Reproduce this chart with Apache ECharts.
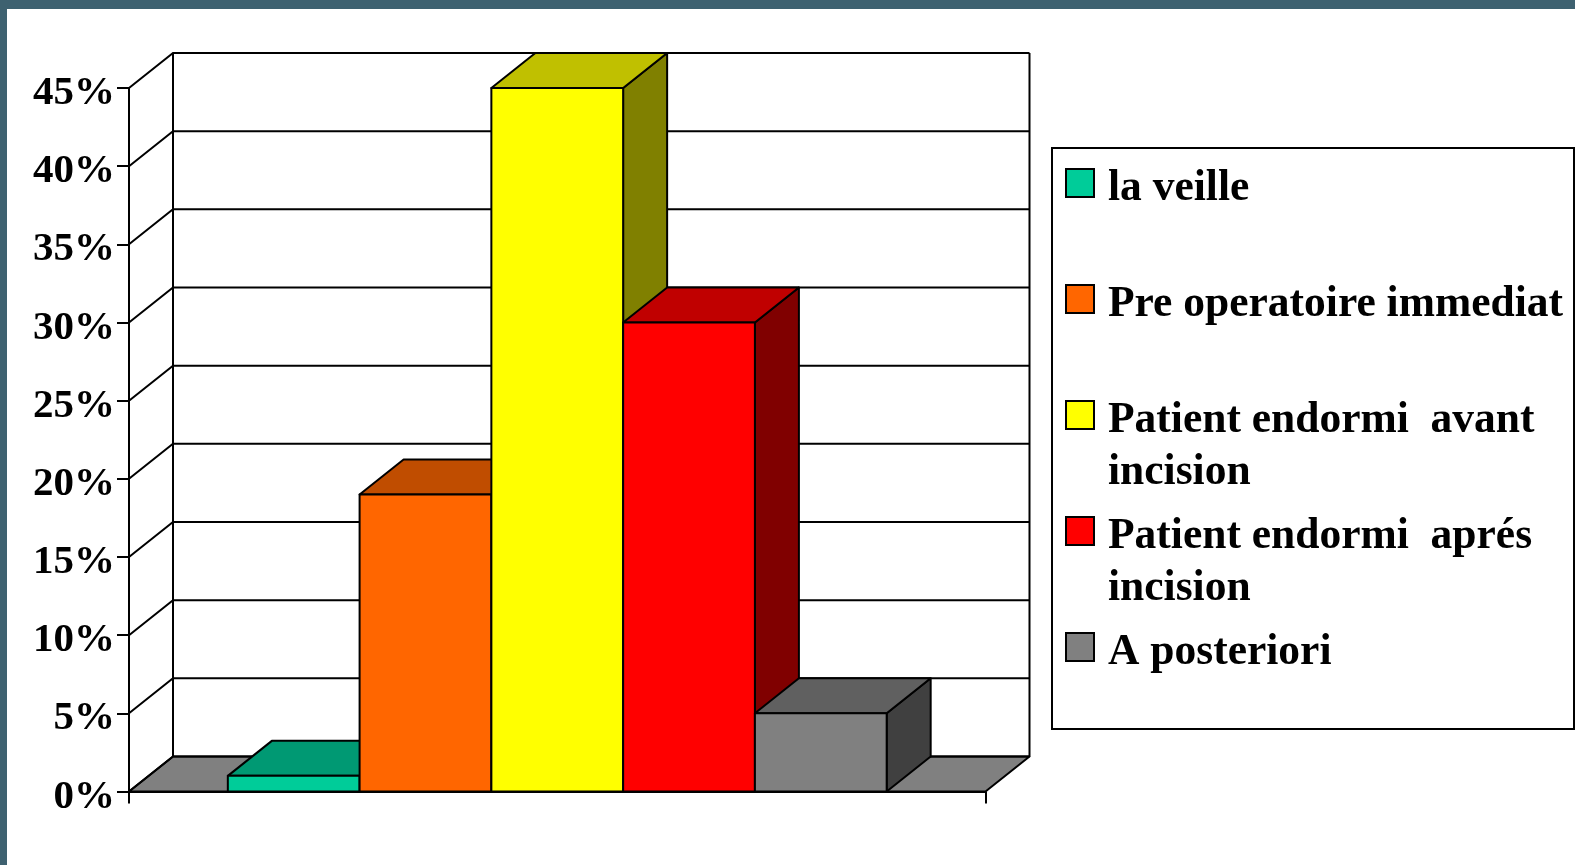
<!DOCTYPE html>
<html>
<head>
<meta charset="utf-8">
<title>Chart</title>
<style>
  html, body { margin: 0; padding: 0; background: #fff; }
  #chart { width: 1575px; height: 865px; }
</style>
<script src="https://cdn.jsdelivr.net/npm/echarts@6/dist/echarts.min.js"></script>
</head>
<body>
<div id="chart"></div>
<script>
var names = ['la veille', 'Pre operatoire immediat', 'Patient endormi  avant\nincision', 'Patient endormi  aprés\nincision', 'A posteriori'];
var values = [1, 19, 45, 30, 5];
var yTicks = [0, 5, 10, 15, 20, 25, 30, 35, 40, 45];

var frontColors = ['#00cc99', '#ff6600', '#ffff00', '#ff0000', '#808080'];
var topColors = ['#009973', '#c04d00', '#c0c000', '#c00000', '#606060'];
var sideColors = ['#006650', '#803300', '#808000', '#800000', '#404040'];

// 3d depth of the old office chart, front plane -> back wall
var DX = 44;
var DY = 35;
var LINE = 2;
var FONT = 'Liberation Serif';
var BAND = '#3e6170';

function poly(points, fill) {
  return {
    type: 'polygon',
    shape: { points: points },
    style: { fill: fill, stroke: '#000', lineWidth: LINE, lineJoin: 'round' }
  };
}

function line(points) {
  return {
    type: 'polyline',
    shape: { points: points },
    style: { fill: 'none', stroke: '#000', lineWidth: LINE }
  };
}

// floor + walls, one element per tick
function renderWalls(params, api) {
  var sys = params.coordSys;
  var x0 = sys.x;
  var x1 = sys.x + sys.width;
  var y = api.coord([0, api.value(0)])[1];
  var children = [
    line([[x0, y], [x0 + DX, y - DY], [x1 + DX, y - DY]])
  ];
  if (params.dataIndex === 0) {
    var top = api.coord([0, yTicks[yTicks.length - 1]])[1] - DY;
    children.unshift(poly([[x0, y], [x1, y], [x1 + DX, y - DY], [x0 + DX, y - DY]], '#808080'));
    children.push(line([[x0 + DX, y - DY], [x0 + DX, top]]));
    children.push(line([[x1 + DX, y - DY], [x1 + DX, top]]));
  }
  return { type: 'group', children: children };
}

function renderBar(i) {
  return function (params, api) {
    var w = params.coordSys.width / (names.length + 1.5);
    var left = params.coordSys.x + w * (0.75 + i);
    var right = left + w;
    var yTop = api.coord([0, api.value(1)])[1];
    var yBase = api.coord([0, 0])[1];
    return {
      type: 'group',
      children: [
        poly([[right, yTop], [right + DX, yTop - DY], [right + DX, yBase - DY], [right, yBase]], sideColors[i]),
        poly([[left, yTop], [left + DX, yTop - DY], [right + DX, yTop - DY], [right, yTop]], topColors[i]),
        poly([[left, yTop], [right, yTop], [right, yBase], [left, yBase]], frontColors[i])
      ]
    };
  };
}

var series = [{
  type: 'custom',
  name: 'walls',
  silent: true,
  data: yTicks.map(function (t) { return [t]; }),
  encode: { y: 0 },
  renderItem: renderWalls
}];
names.forEach(function (name, i) {
  series.push({
    type: 'custom',
    name: name,
    silent: true,
    itemStyle: { color: frontColors[i] },
    data: [[0, values[i]]],
    encode: { x: 0, y: 1 },
    renderItem: renderBar(i)
  });
});

var myChart = echarts.init(document.getElementById('chart'));
var option = {
  animation: false,
  grid: { left: 129, top: 88, width: 856.5, height: 703.5 },
  xAxis: {
    type: 'category',
    data: [''],
    axisLine: { lineStyle: { color: '#000', width: LINE } },
    axisTick: { show: true, interval: 0, length: 12, lineStyle: { color: '#000', width: LINE } },
    axisLabel: { show: false },
    splitLine: { show: false }
  },
  yAxis: {
    type: 'value',
    min: 0,
    max: 45,
    interval: 5,
    axisLine: { show: true, lineStyle: { color: '#000', width: LINE } },
    axisTick: { show: true, length: 12, lineStyle: { color: '#000', width: LINE } },
    axisLabel: {
      formatter: '{value}%',
      margin: 14,
      color: '#000',
      fontFamily: FONT,
      fontWeight: 'bold',
      fontSize: 41,
      // short line box, labels sit a little under their tick
      verticalAlign: 'top',
      lineHeight: 11
    },
    splitLine: { show: false }
  },
  legend: {
    orient: 'vertical',
    left: 1060,
    top: 104,
    selectedMode: false,
    itemWidth: 28,
    itemHeight: 28,
    itemGap: -38,
    icon: 'rect',
    itemStyle: { borderColor: '#000', borderWidth: LINE },
    // taller blank first line keeps the swatch level with the first text line
    formatter: function (name) {
      var lines = name.split('\n');
      if (lines.length < 2) {
        lines.push('\u00a0');
      }
      return '{gap|\u00a0}\n{t|' + lines[0] + '}\n{t|' + lines[1] + '}';
    },
    textStyle: {
      color: '#000',
      fontFamily: FONT,
      fontWeight: 'bold',
      fontSize: 43.5,
      rich: {
        gap: { lineHeight: 64, fontSize: 43.5 },
        t: {
          color: '#000',
          fontFamily: FONT,
          fontWeight: 'bold',
          fontSize: 43.5,
          lineHeight: 52,
          padding: [0, 0, 0, 9]
        }
      }
    },
    data: names
  },
  graphic: [
    { type: 'rect', left: 0, top: 0, z: -1, shape: { width: 1575, height: 9 }, style: { fill: BAND } },
    { type: 'rect', left: 0, top: 0, z: -1, shape: { width: 7, height: 865 }, style: { fill: BAND } },
    {
      type: 'rect',
      left: 1051,
      top: 147,
      z: -1,
      shape: { width: 522, height: 581 },
      style: { fill: '#fff', stroke: '#000', lineWidth: LINE }
    }
  ],
  series: series
};
myChart.setOption(option, true);
</script>
</body>
</html>
